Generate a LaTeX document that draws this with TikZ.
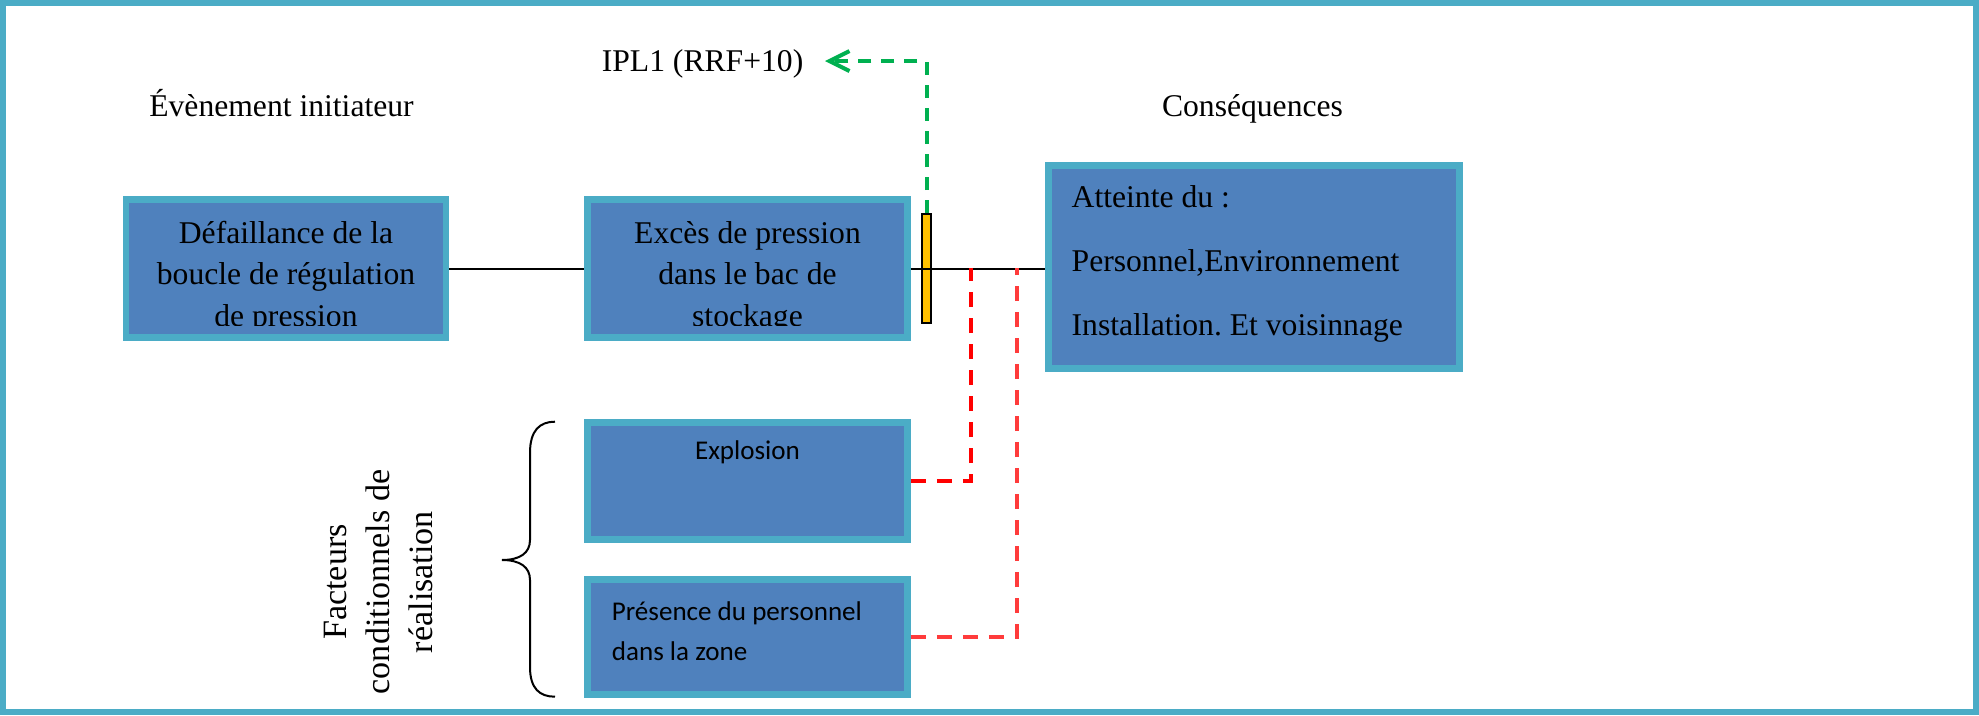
\documentclass[tikz,border=0pt]{standalone}
\usepackage{fontspec}
\setmainfont{Liberation Serif}
\newfontfamily\calib{Carlito}
\usetikzlibrary{arrows.meta,positioning}
\definecolor{cadre}{HTML}{4BACC6}
\definecolor{fond}{HTML}{4F81BD}
\definecolor{barre}{HTML}{FFC000}
\definecolor{vertipl}{HTML}{00B050}
\definecolor{rougea}{HTML}{FF0000}
\definecolor{rougeb}{HTML}{FF3B3B}
\frenchspacing

\begin{document}
\begin{tikzpicture}[scale=1.0,
  bloc/.style={draw=cadre, fill=fond, line width=0.066cm, inner sep=0pt},
  txt/.style={inner sep=0pt, font=\fontsize{9}{11.8}\selectfont},
  calibtxt/.style={inner sep=0pt, font=\calib\fontsize{7.7}{11.4}\selectfont},
  tiret/.style={line width=0.04cm, dash pattern=on 0.15cm off 0.11cm}]

\useasboundingbox (0,0) rectangle (19.79,7.15);
\draw[cadre, line width=0.06cm] (0.03,0.03) rectangle (19.76,7.12);

% titres
\node[txt, anchor=base] (titreev) at (2.815,5.983) {Évènement initiateur};
\node[txt, anchor=base] (titrecq) at (12.525,5.983) {Conséquences};

% chaine principale
\node[bloc, minimum width=3.20cm, minimum height=1.384cm] (defa) at (2.86,4.465) {};
\node[bloc, minimum width=3.20cm, minimum height=1.384cm] (exces) at (7.475,4.465) {};
\begin{scope}
\clip (0,3.895) rectangle (10,7.15); % texte coupe en bas comme dans la zone de texte
\node[txt, align=center] (defat) at ([yshift=-0.085cm]defa.center)
  {Défaillance de la\\ boucle de régulation\\ de pression};
\node[txt, align=center] (excest) at ([yshift=-0.085cm]exces.center)
  {Excès de pression\\ dans le bac de\\ stockage};
\end{scope}
\node[bloc, minimum width=4.114cm, minimum height=2.034cm] (consq) at (12.54,4.48) {};
\node[txt, font=\fontsize{9}{18.2}\selectfont, align=left, anchor=west] (consqt)
  at ([xshift=0.26cm,yshift=0.03cm]consq.west)
  {Atteinte du :\\ Personnel,Environnement\\ Installation. Et voisinnage};

% barriere IPL1
\node[draw=black, fill=barre, line width=0.017cm, inner sep=0pt,
  minimum width=0.093cm, minimum height=1.093cm] (ipl) at (9.265,4.465) {};

\draw[line width=0.02cm] (defa.east) -- (exces.west);
\draw[line width=0.02cm] (exces.east) -- (exces.east -| consq.west);

\node[txt, anchor=base east] (ipltxt) at (8.04,6.433) {IPL1 (RRF+10)};
\draw[vertipl, tiret, dash pattern=on 0.13cm off 0.10cm,
  -{Straight Barb[length=0.2cm,width=0.2cm]}] (ipl.north) |- ([xshift=0.21cm,yshift=0.03cm]ipltxt.east);

% facteurs conditionnels
\node[txt, font=\fontsize{9.7}{12.2}\selectfont, align=center, rotate=90] (facteurs) at (3.785,1.33)
  {Facteurs\\ conditionnels de\\ réalisation};
\draw[line width=0.02cm] (5.55,2.933) .. controls (5.40,2.933) and (5.30,2.85) .. (5.30,2.62)
  -- (5.30,1.75) .. controls (5.30,1.62) and (5.20,1.55) .. (5.02,1.55)
  .. controls (5.20,1.55) and (5.30,1.48) .. (5.30,1.35)
  -- (5.30,0.48) .. controls (5.30,0.26) and (5.40,0.183) .. (5.55,0.183);

\node[bloc, minimum width=3.20cm, minimum height=1.17cm] (explo) at (7.475,2.34) {};
\node[calibtxt, below=0.21cm of explo.north] (explot) {Explosion};
\node[bloc, minimum width=3.20cm, minimum height=1.154cm] (presc) at (7.475,0.78) {};
\node[calibtxt, align=left, anchor=west] (presct) at ([xshift=0.27cm,yshift=0.06cm]presc.west)
  {Présence du personnel\\ dans la zone};

\coordinate (ra) at (9.71,4.47);
\coordinate (rb) at (10.17,4.47);
\draw[rougea, tiret] (explo.east) -| (ra);
\draw[rougeb, tiret] (presc.east) -| (rb);

\end{tikzpicture}
\end{document}
